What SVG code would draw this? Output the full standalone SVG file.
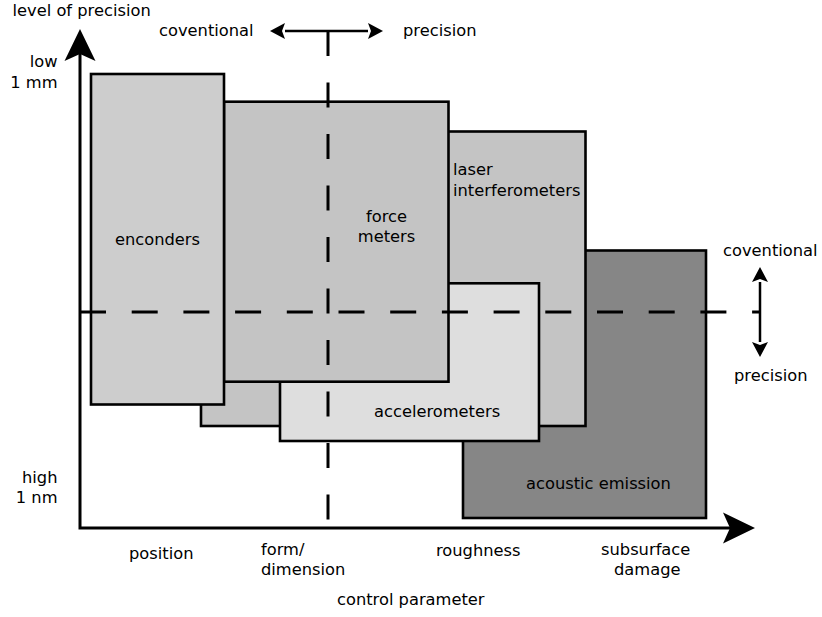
<svg xmlns="http://www.w3.org/2000/svg" width="822" height="617" viewBox="0 0 822 617">
<style>
text{font-family:"DejaVu Sans","Noto Sans",sans-serif;font-size:16.3px;fill:#000}
.box{stroke:#000;stroke-width:2.6}
.ax{fill:none;stroke:#000;stroke-width:3}
.dash{fill:none;stroke:#000;stroke-width:3}
.dbl{fill:none;stroke:#000;stroke-width:2.5}
.m{text-anchor:middle}
.e{text-anchor:end}
</style>
<defs>
<marker id="big" markerUnits="userSpaceOnUse" markerWidth="40" markerHeight="40" viewBox="-20 -20 40 40" refX="0" refY="0" orient="auto-start-reverse">
<path d="M20,0 L-12,-15.5 L-5,0 L-12,15.5 Z" fill="#000"/>
</marker>
<marker id="small" markerUnits="userSpaceOnUse" markerWidth="20" markerHeight="20" viewBox="-2 -10 20 20" refX="0" refY="0" orient="auto-start-reverse">
<path d="M15,0 L0,-8 L3,0 L0,8 Z" fill="#000"/>
</marker>
</defs>
<rect width="822" height="617" fill="#fff"/>
<g id="acoustic-emission">
<rect class="box" x="463" y="250.5" width="243" height="267.5" fill="#868686"/>
<text x="526" y="489">acoustic emission</text>
</g>
<g id="laser-interferometers">
<rect class="box" x="201" y="131.5" width="384.5" height="294.5" fill="#c4c4c4"/>
<text x="453" y="175">laser</text>
<text x="453" y="196">interferometers</text>
</g>
<g id="accelerometers">
<rect class="box" x="280" y="283.3" width="259" height="157.7" fill="#dedede"/>
<text x="374" y="417">accelerometers</text>
</g>
<g id="force-meters">
<rect class="box" x="224" y="101.7" width="224.5" height="280" fill="#c4c4c4"/>
<text class="m" x="386.5" y="221.5">force</text>
<text class="m" x="386.5" y="241.5">meters</text>
</g>
<g id="encoders">
<rect class="box" x="91" y="74" width="133" height="330.5" fill="#cdcdcd"/>
<text class="m" x="157.5" y="245">enconders</text>
</g>
<g id="connectors">
<path class="ax" d="M80,49 L80,528 L735,528" marker-start="url(#big)" marker-end="url(#big)"/>
<path class="dash" d="M328,31 L328,520" stroke-dasharray="25 26.5"/>
<path class="dash" d="M80,312 L760,312" stroke-dasharray="26 25.7"/>
<path class="dbl" d="M285,31 L368,31" marker-start="url(#small)" marker-end="url(#small)"/>
<path class="dbl" d="M760,282 L760,342" marker-start="url(#small)" marker-end="url(#small)"/>
</g>
<g id="labels">
<text x="12.5" y="15.5">level of precision</text>
<text x="159" y="36">coventional</text>
<text x="403" y="36">precision</text>
<text class="e" x="57.5" y="67">low</text>
<text class="e" x="57.5" y="88">1 mm</text>
<text class="e" x="57.5" y="483">high</text>
<text class="e" x="57.5" y="503">1 nm</text>
<text x="723" y="256">coventional</text>
<text x="734" y="381">precision</text>
<text x="129" y="559">position</text>
<text x="261" y="555">form/</text>
<text x="261" y="575">dimension</text>
<text x="436" y="556">roughness</text>
<text x="601" y="555">subsurface</text>
<text x="614" y="575">damage</text>
<text x="337" y="605">control parameter</text>
</g>
</svg>
